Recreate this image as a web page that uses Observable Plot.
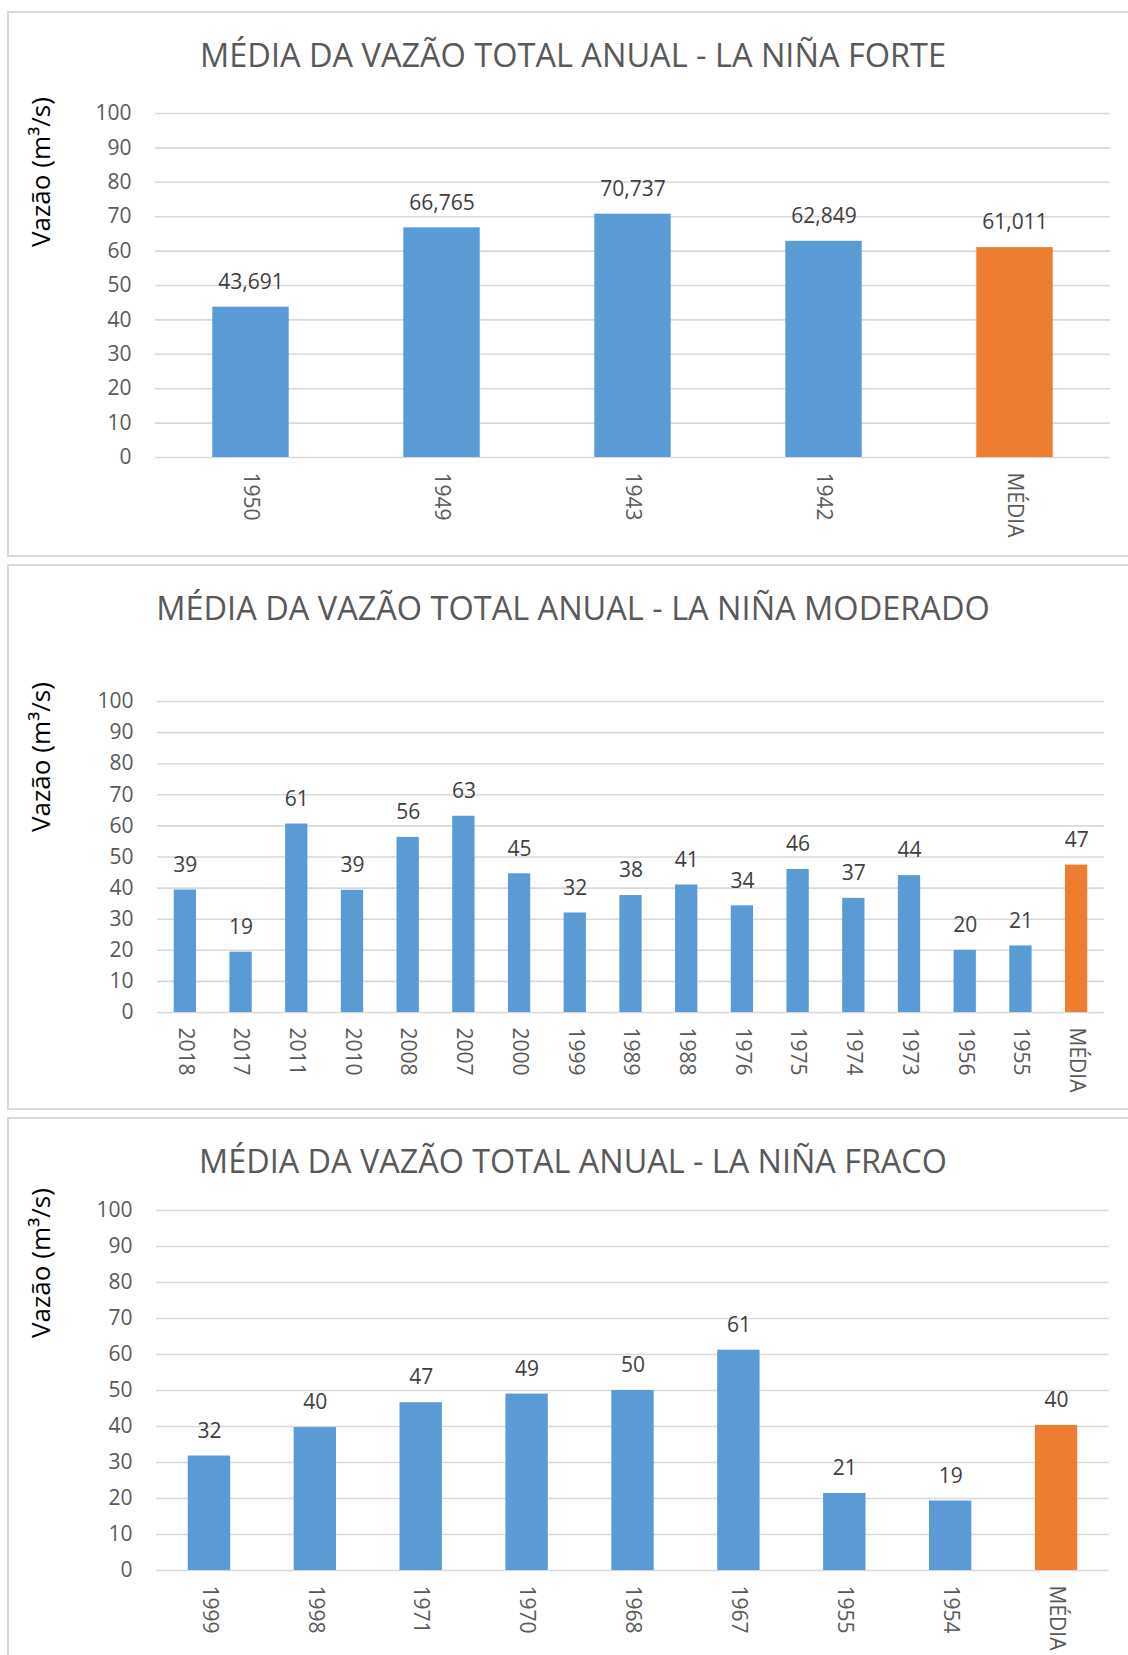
<!DOCTYPE html>
<html>
<head>
<meta charset="utf-8">
<script src="https://cdn.jsdelivr.net/npm/d3@7"></script>
<script src="https://cdn.jsdelivr.net/npm/@observablehq/plot@0.6"></script>
<style>
html, body { margin: 0; padding: 0; background: #fff; }
#page { position: relative; width: 1128px; height: 1655px; overflow: hidden; background: #fff; }
.panel { position: absolute; border: 2px solid #d9d9d9; box-sizing: border-box; background: #fff; }
</style>
</head>
<body>
<div id="page"></div>
<script>
// ---------- data ----------
const forteYears = ["1950", "1949", "1943", "1942", "MÉDIA"];
const forteValues = [43.691, 66.765, 70.737, 62.849, 61.011];

const moderadoYears = ["2018", "2017", "2011", "2010", "2008", "2007", "2000", "1999", "1989", "1988", "1976", "1975", "1974", "1973", "1956", "1955", "MÉDIA"];
const moderadoValues = [39.4, 19.4, 60.6, 39.3, 56.3, 63.1, 44.6, 32.0, 37.6, 41.0, 34.3, 46.0, 36.7, 44.0, 20.0, 21.4, 47.4];

const fracoYears = ["1999", "1998", "1971", "1970", "1968", "1967", "1955", "1954", "MÉDIA"];
const fracoValues = [31.8, 39.7, 46.6, 49.0, 50.0, 61.2, 21.4, 19.3, 40.3];

const yTicks = [0, 10, 20, 30, 40, 50, 60, 70, 80, 90, 100];
const titles = [
  "MÉDIA DA VAZÃO TOTAL ANUAL - LA NIÑA FORTE",
  "MÉDIA DA VAZÃO TOTAL ANUAL - LA NIÑA MODERADO",
  "MÉDIA DA VAZÃO TOTAL ANUAL - LA NIÑA FRACO"
];
const yAxisLabel = "Vazão (m³/s)";
const averageLabel = "MÉDIA";

// ---------- styling / layout ----------
const FONT = '"Open Sans", "Noto Sans", sans-serif';
const BLUE = "#5b9bd5", ORANGE = "#ed7d31";
const W = 1128;
const page = document.getElementById("page");

const ptBR = d3.formatLocale({decimal: ",", thousands: ".", grouping: [3], currency: ["", ""]});
const fmt3 = ptBR.format(".3f");
const fmt0 = d3.format(".0f");

const panels = [
  {cats: forteYears, vals: forteValues, fmt: fmt3, box: [7, 11, 546], y100: 113, y0: 457, left: 155, right: 1110, bottom: 95,
   title: titles[0], titleW: 746, titleBase: 67, ylabY: 172},
  {cats: moderadoYears, vals: moderadoValues, fmt: fmt0, box: [7, 564, 546], y100: 701, y0: 1012, left: 157, right: 1104, bottom: 90,
   title: titles[1], titleW: 834, titleBase: 620, ylabY: 757},
  {cats: fracoYears, vals: fracoValues, fmt: fmt0, box: [7, 1117, 600], y100: 1210, y0: 1570, left: 156, right: 1109, bottom: 85,
   title: titles[2], titleW: 748, titleBase: 1173, ylabY: 1263}
];

const ctx = document.createElement("canvas").getContext("2d");
function fitSize(text, target) {
  ctx.font = `100px ${FONT}`;
  return 100 * target / ctx.measureText(text).width;
}

// panel frames
for (const p of panels) {
  const d = document.createElement("div");
  d.className = "panel";
  d.style.left = p.box[0] + "px";
  d.style.top = p.box[1] + "px";
  d.style.width = (W + 20) + "px";
  d.style.height = p.box[2] + "px";
  page.appendChild(d);
}

// charts
for (const p of panels) {
  const data = p.cats.map((c, i) => ({cat: c, v: p.vals[i]}));
  const mt = 20;
  const h = mt + (p.y0 - p.y100) + p.bottom;
  const svg = Plot.plot({
    width: W,
    height: h,
    marginTop: mt,
    marginBottom: p.bottom,
    marginLeft: p.left,
    marginRight: W - p.right,
    style: {fontFamily: FONT, fontSize: "21px", color: "#595959", background: "transparent", overflow: "visible"},
    x: {domain: p.cats, paddingInner: 0.6, paddingOuter: 0.3, round: false, label: null},
    y: {domain: [0, 100], label: null},
    marks: [
      Plot.gridY(yTicks, {stroke: "#d9d9d9", strokeOpacity: 1, strokeWidth: 1.6}),
      Plot.barY(data, {filter: d => d.cat !== averageLabel, x: "cat", y: "v", fill: BLUE}),
      Plot.barY(data, {filter: d => d.cat === averageLabel, x: "cat", y: "v", fill: ORANGE}),
      Plot.text(data, {x: "cat", y: "v", text: d => p.fmt(d.v), dy: -25, fill: "#404040", fontSize: 21}),
      Plot.axisY(yTicks, {tickSize: 0, tickPadding: 24, label: null, fontSize: 21}),
      Plot.axisX({tickSize: 0, tickPadding: 15, tickRotate: 90, label: null, fontSize: 21})
    ]
  });
  svg.style.position = "absolute";
  svg.style.left = "0px";
  svg.style.top = (p.y100 - mt) + "px";
  page.appendChild(svg);
}

// overlay text: titles and y-axis labels
const overlay = d3.select(page).append("svg")
  .attr("width", W).attr("height", 1655)
  .style("position", "absolute").style("left", "0px").style("top", "0px")
  .style("font-family", FONT);

for (const p of panels) {
  const fs = fitSize(p.title, p.titleW);
  overlay.append("text")
    .attr("x", 573).attr("y", p.titleBase)
    .attr("text-anchor", "middle")
    .attr("fill", "#595959")
    .attr("font-size", fs)
    .text(p.title);
  const ls = fitSize(yAxisLabel, 150);
  overlay.append("text")
    .attr("transform", `translate(40,${p.ylabY}) rotate(-90)`)
    .attr("text-anchor", "middle")
    .attr("dominant-baseline", "central")
    .attr("fill", "#000")
    .attr("font-size", ls)
    .text(yAxisLabel);
}
</script>
</body>
</html>
